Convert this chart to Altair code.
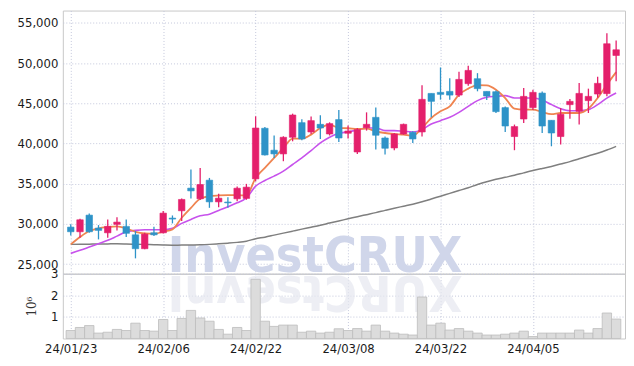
import altair as alt
import pandas as pd

dates = ["24/01/23", "24/01/24", "24/01/25", "24/01/26", "24/01/29", "24/01/30", "24/01/31",
         "24/02/01", "24/02/02", "24/02/05", "24/02/06", "24/02/07", "24/02/08", "24/02/13",
         "24/02/14", "24/02/15", "24/02/16", "24/02/19", "24/02/20", "24/02/21", "24/02/22",
         "24/02/23", "24/02/26", "24/02/27", "24/02/28", "24/02/29", "24/03/04", "24/03/05",
         "24/03/06", "24/03/07", "24/03/08", "24/03/11", "24/03/12", "24/03/13", "24/03/14",
         "24/03/15", "24/03/18", "24/03/19", "24/03/20", "24/03/21", "24/03/22", "24/03/25",
         "24/03/26", "24/03/27", "24/03/28", "24/03/29", "24/04/01", "24/04/02", "24/04/03",
         "24/04/04", "24/04/05", "24/04/08", "24/04/09", "24/04/11", "24/04/12", "24/04/15",
         "24/04/16", "24/04/17", "24/04/18", "24/04/19"]

opens = [29600, 29020, 31090, 29480, 28890, 29940, 29690, 28640, 26910, 28890,
         28890, 30720, 31630, 34450, 33120, 35440, 32740, 32720, 33120, 33170,
         35600, 41900, 39170, 38710, 40780, 42600, 41440, 42390, 41190, 42980,
         41280, 38950, 41980, 43260, 40690, 39450, 41190, 41400, 41440, 46240,
         46370, 46490, 46030, 47450, 48070, 46490, 46450, 44470, 40870, 43050,
         44470, 46280, 42890, 40870, 44840, 44010, 45340, 46160, 46210, 50960]
highs = [29940, 30630, 31300, 29850, 30560, 30840, 30560, 29100, 28890, 29640,
         31590, 31050, 33170, 36770, 36970, 35720, 33740, 33330, 34650, 34980,
         43390, 42060, 40990, 40900, 43720, 43010, 43350, 43510, 42640, 44170,
         42230, 41930, 43880, 44500, 40870, 41310, 42480, 41520, 47240, 46240,
         49470, 48140, 48940, 49680, 48760, 46490, 46600, 44600, 42360, 46900,
         46700, 46490, 42890, 44420, 45540, 47520, 46830, 48320, 53730, 52830]
lows = [28570, 28270, 28900, 28070, 28270, 29190, 28360, 25710, 26850, 28480,
        28800, 30060, 30350, 33170, 32960, 32000, 32080, 32000, 32830, 33000,
        35290, 38500, 38210, 37800, 40280, 40400, 41200, 40570, 41000, 40200,
        40620, 38710, 41610, 39250, 38630, 39170, 41100, 40070, 40870, 43260,
        45460, 45460, 45800, 47200, 46500, 45410, 43800, 41440, 39170, 42560,
        44160, 41310, 39660, 39870, 43100, 42360, 43800, 45700, 45900, 47740]
closes = [29020, 30510, 29020, 29190, 29690, 30220, 28820, 26910, 28730, 28640,
          31340, 30600, 33040, 34110, 34900, 32740, 33200, 32620, 34440, 34570,
          41930, 38580, 38710, 40780, 43550, 40570, 42850, 41930, 42480, 40690,
          41560, 41740, 42390, 41030, 39410, 41190, 42390, 40570, 45500, 45250,
          46120, 46030, 47980, 49100, 46830, 45910, 43970, 42180, 42110, 45870,
          46370, 42180, 41310, 43640, 45250, 46240, 45870, 47490, 52420, 51670]
ma_short = [27450, 28360, 29110, 29440, 29600, 29690, 29440, 29020, 28820, 28770,
            29020, 29320, 30760, 32000, 33120, 33450, 33540, 33580, 33580, 33540,
            35720, 36970, 38210, 39450, 40620, 40620, 41110, 41930, 42360, 41930,
            41900, 41810, 41860, 41520, 41310, 41190, 41110, 40990, 41930, 43180,
            44010, 44630, 46080, 46830, 47280, 47240, 46700, 45660, 44340, 44220,
            44220, 43920, 43670, 43800, 43800, 43800, 44340, 45660, 47330, 48890]
ma_mid = [26330, 26710, 27120, 27530, 27950, 28480, 29020, 29190, 29270, 29270,
          29270, 29440, 30060, 30560, 31000, 31210, 31670, 32120, 32620, 33240,
          34690, 35400, 35940, 36560, 37390, 38210, 39130, 40070, 40780, 41280,
          41450, 41690, 41930, 41930, 41610, 41610, 41520, 41440, 41730, 42440,
          42850, 43260, 43880, 44630, 45340, 45750, 45870, 45960, 45660, 45660,
          45660, 45410, 44840, 44340, 44090, 44090, 44220, 44840, 45660, 46280]
ma_long = [27450, 27460, 27480, 27500, 27510, 27520, 27500, 27470, 27440, 27400,
           27370, 27350, 27360, 27380, 27400, 27450, 27520, 27600, 27700, 27850,
           28150, 28350, 28600, 28850, 29100, 29350, 29580, 29820, 30100, 30370,
           30630, 30900, 31150, 31400, 31680, 31950, 32200, 32450, 32750, 33100,
           33450, 33800, 34150, 34500, 34900, 35250, 35550, 35800, 36050, 36350,
           36640, 36900, 37150, 37450, 37750, 38100, 38450, 38800, 39200, 39650]
volumes = [370000, 510000, 600000, 250000, 290000, 420000, 370000, 710000, 370000, 340000,
           880000, 370000, 930000, 1300000, 950000, 800000, 420000, 200000, 510000, 370000,
           2740000, 800000, 560000, 620000, 620000, 290000, 340000, 250000, 290000, 450000,
           370000, 460000, 340000, 620000, 340000, 250000, 200000, 160000, 1920000, 620000,
           710000, 390000, 460000, 340000, 250000, 160000, 160000, 200000, 250000, 340000,
           90000, 250000, 250000, 250000, 250000, 390000, 250000, 460000, 1180000, 900000]

price_ticks = [25000, 30000, 35000, 40000, 45000, 50000, 55000]
vol_ticks = [1000000, 2000000, 3000000]
watermark = "InvestCRUX"

df = pd.DataFrame({
    "idx": list(range(len(dates))),
    "date": dates,
    "open": opens, "high": highs, "low": lows, "close": closes,
    "ma_short": ma_short, "ma_mid": ma_mid, "ma_long": ma_long,
    "volume": volumes,
})

W = 564
H_PRICE = 264
H_VOL = 65
FONT = "DejaVu Sans Condensed"
RED = "#e41f6b"
BLUE = "#2e93c8"
GRID = "#c4c8dc"

label_pos = list(range(0, len(dates), 10))
label_expr = "[" + ",".join("'%s'" % dates[i] for i in label_pos) + "][round(datum.value/10)]"
x_scale = alt.Scale(domain=[-0.32, 59.42], nice=False, zero=False)

grid_style = dict(grid=True, gridColor=GRID, gridDash=[1, 2], gridWidth=1,
                  ticks=False, domain=False)

x_price = alt.X("idx:Q", scale=x_scale, title=None,
                axis=alt.Axis(values=label_pos, labels=False, **grid_style))
y_scale = alt.Scale(domain=[23800, 56550], nice=False, zero=False)
y_axis = alt.Axis(values=price_ticks, format=",.0f", labelPadding=5, **grid_style)


def py(field):
    return alt.Y(field, scale=y_scale, axis=y_axis, title=None)


up = "datum.close >= datum.open"
candle_color = alt.condition(up, alt.value(RED), alt.value(BLUE))

base = alt.Chart(df)

wm = alt.Chart(alt.Data(values=[{"t": watermark}])).mark_text(
    font="DejaVu Sans Condensed", fontSize=50, fontWeight="bold", color="#d0d6ea",
    align="center", baseline="alphabetic"
).encode(x=alt.value(253), y=alt.value(262), text="t:N")

line_long = base.mark_line(color="#7f7f7f", strokeWidth=1.5, interpolate="monotone").encode(
    x=x_price, y=py("ma_long:Q"))
line_mid = base.mark_line(color="#c752ec", strokeWidth=1.6, interpolate="monotone").encode(
    x=x_price, y=py("ma_mid:Q"))
line_short = base.mark_line(color="#ef8450", strokeWidth=1.8, interpolate="monotone").encode(
    x=x_price, y=py("ma_short:Q"))

wicks = base.mark_rule(strokeWidth=1.3).encode(
    x=x_price, y=py("low:Q"), y2="high:Q", color=candle_color)
bodies = base.mark_bar(size=6.5, strokeWidth=0.6).encode(
    x=x_price, y=py("open:Q"), y2="close:Q",
    color=candle_color, stroke=candle_color)

price = alt.layer(wm, line_long, line_mid, line_short, wicks, bodies).properties(
    width=W, height=H_PRICE)

x_vol = alt.X("idx:Q", scale=x_scale, title=None,
              axis=alt.Axis(values=label_pos, labelExpr=label_expr, labelPadding=4,
                            **grid_style))

wm_ref = alt.Chart(alt.Data(values=[{"t": watermark[::-1]}])).mark_text(
    font="DejaVu Sans Condensed", fontSize=50, fontWeight="bold", color="#e6e8f0",
    align="center", baseline="alphabetic", angle=180, opacity=0.7
).encode(x=alt.value(253), y=alt.value(2), text="t:N")

vol_bars = base.mark_bar(size=9.4, fill="#dcdcdc", stroke="#bdbdbd", strokeWidth=0.8).encode(
    x=x_vol,
    y=alt.Y("volume:Q", scale=alt.Scale(domain=[0, 3000000], nice=False),
            axis=alt.Axis(values=vol_ticks, labelExpr="datum.value / 1000000",
                          title="10⁶", titleFont="DejaVu Serif", titleFontSize=12,
                          titleFontWeight="normal", titleColor="#333333",
                          titlePadding=12, labelPadding=5, **grid_style)))

volume = alt.layer(wm_ref, vol_bars).properties(width=W, height=H_VOL)

chart = alt.vconcat(price, volume, spacing=0, bounds="flush").properties(
    padding={"left": 8, "top": 1, "right": 0, "bottom": 0},
    background="white",
).configure_view(stroke="#c8c8c8").configure_axis(
    labelFont=FONT, labelFontSize=13, labelColor="#1a1a1a"
)

chart.save("out.html", embed_options={"renderer": "svg", "actions": False})
